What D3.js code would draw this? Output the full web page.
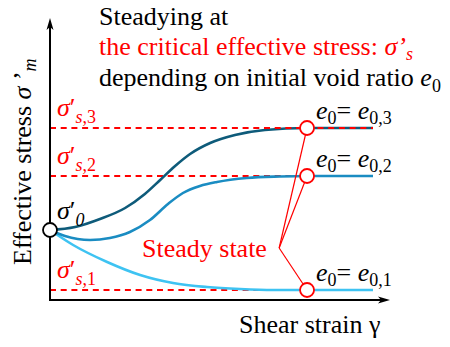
<!DOCTYPE html>
<html>
<head>
<meta charset="utf-8">
<script src="https://cdn.jsdelivr.net/npm/d3@7"></script>
<style>
  html, body { margin: 0; padding: 0; background: #fff; }
  svg { display: block; }
</style>
</head>
<body>
<div id="chart"></div>
<script>
// Shear strain (arbitrary units) sampled along each stress path
const strain3 = [0, 0.74, 1.47, 2.21, 2.79, 3.24, 3.68, 4.12, 4.71, 5.44, 6.32, 7.56, 9.5];
const stress3 = [70, 73, 81, 92, 106, 120, 134, 146, 157, 165, 170, 172, 172];

const strain2 = [0, 0.44, 1.18, 1.76, 2.35, 2.94, 3.47, 3.91, 4.41, 4.91, 5.79, 6.76, 7.56, 9.5];
const stress2 = [70, 64, 60, 62, 68, 80, 96, 107, 114, 118, 122, 123.5, 124, 124];

const strain1 = [0, 0.68, 1.68, 2.65, 3.62, 4.62, 5.59, 6.56, 7.56, 9.5];
const stress1 = [70, 55, 38, 25, 17, 13, 11, 10, 10, 10];

// Initial stress and the critical (steady state) stresses
const initialStress = 70;
const criticalStress = [10, 124, 172];      // σ's,1 σ's,2 σ's,3
const criticalIndex = ["1", "2", "3"];
const steadyStrain = 7.56;
const endStrain = 9.5;
const seriesColors = ["#3ec3f2", "#1a8cc2", "#0e5b7a"];

const W = 450, H = 347;
const FONT = "'Liberation Serif'";
const RED = "#ff0000";

const svg = d3.select("#chart").append("svg")
  .attr("width", W).attr("height", H);

const x = d3.scaleLinear().domain([0, 10]).range([50, 390]);
const y = d3.scaleLinear().domain([0, 282]).range([300, 18]);

const plot = svg.append("g");

// dashed guides at the critical stresses (lower two stop at the steady point)
criticalStress.slice(0, 2).forEach(v => {
  plot.append("line")
    .attr("x1", x(0)).attr("x2", x(steadyStrain))
    .attr("y1", y(v)).attr("y2", y(v))
    .attr("stroke", RED).attr("stroke-width", 2)
    .attr("stroke-dasharray", "6,4.7");
});

// stress paths
const line = d3.line()
  .x(d => x(d[0])).y(d => y(d[1]))
  .curve(d3.curveMonotoneX);

[[strain1, stress1], [strain2, stress2], [strain3, stress3]].forEach((p, i) => {
  plot.append("path")
    .datum(d3.zip(p[0], p[1]))
    .attr("d", line)
    .attr("fill", "none")
    .attr("stroke", seriesColors[i])
    .attr("stroke-width", 2.6);
});

// top guide runs across the whole steady branch
plot.append("line")
  .attr("x1", x(0)).attr("x2", x(endStrain))
  .attr("y1", y(criticalStress[2])).attr("y2", y(criticalStress[2]))
  .attr("stroke", RED).attr("stroke-width", 2)
  .attr("stroke-dasharray", "6,4.7");

// axes with arrow heads
const x0 = x(0), y0 = y(0), xEnd = x(10), yEnd = y(282);
plot.append("line")
  .attr("x1", x0).attr("y1", y0).attr("x2", x0).attr("y2", yEnd + 4)
  .attr("stroke", "#000").attr("stroke-width", 2);
plot.append("line")
  .attr("x1", x0 - 1).attr("y1", y0).attr("x2", xEnd - 4).attr("y2", y0)
  .attr("stroke", "#000").attr("stroke-width", 2);
plot.append("path")
  .attr("d", `M${x0},${yEnd} L${x0 + 3.5},${yEnd + 12} L${x0},${yEnd + 9} L${x0 - 3.5},${yEnd + 12} Z`)
  .attr("fill", "#000");
plot.append("path")
  .attr("d", `M${xEnd},${y0} L${xEnd - 12},${y0 - 3.5} L${xEnd - 9},${y0} L${xEnd - 12},${y0 + 3.5} Z`)
  .attr("fill", "#000");

// leader lines from the "Steady state" label
const hub = [x(6.74), y(52)];
criticalStress.forEach(v => {
  plot.append("line")
    .attr("x1", hub[0]).attr("y1", hub[1])
    .attr("x2", x(steadyStrain)).attr("y2", y(v))
    .attr("stroke", RED).attr("stroke-width", 1.2);
});

// steady state markers
plot.selectAll("circle.steady")
  .data(criticalStress)
  .join("circle")
  .attr("class", "steady")
  .attr("cx", x(steadyStrain)).attr("cy", d => y(d))
  .attr("r", 7)
  .attr("fill", "#fff").attr("stroke", RED).attr("stroke-width", 1.8);

// initial state marker
plot.append("circle")
  .attr("cx", x(0)).attr("cy", y(initialStress))
  .attr("r", 7)
  .attr("fill", "#fff").attr("stroke", "#000").attr("stroke-width", 1.8);

// ---- labels ----
const FS = 26, SUB = 18;

function addText(px, py, color) {
  const t = svg.append("text")
    .attr("x", px).attr("y", py)
    .attr("font-size", FS)
    .attr("font-family", FONT);
  if (color !== "#000") t.attr("fill", color);
  return t;
}

// heading
addText(99, 25, "#000").text("Steadying at");

const h2 = addText(99, 55, RED);
h2.append("tspan").text("the critical effective stress: ");
h2.append("tspan").attr("font-style", "italic").text("σ’");
h2.append("tspan").attr("font-style", "italic").attr("font-size", SUB).attr("dy", 5).text("s");

const h3 = addText(99, 86, "#000");
h3.append("tspan").text("depending on initial void ratio ");
h3.append("tspan").attr("font-style", "italic").text("e");
h3.append("tspan").attr("font-size", SUB).attr("dy", 6).text("0");

// "Steady state" callout
addText(142, 257, RED).text("Steady state");

// axis titles
addText(239, 333, "#000").text("Shear strain γ");

const yl = svg.append("text")
  .attr("transform", "translate(31,265) rotate(-90)")
  .attr("font-size", FS)
  .attr("font-family", FONT);
yl.append("tspan").text("Effective stress ");
yl.append("tspan").attr("font-style", "italic").text("σ");
yl.append("tspan").text(" ’");
yl.append("tspan").attr("font-style", "italic").attr("font-size", SUB).attr("dy", 5).text("m");

function sigmaLabel(px, py, color, sub) {
  const t = addText(px, py, color);
  t.append("tspan").attr("font-style", "italic").text("σ");
  t.append("tspan").text("′");
  t.append("tspan").attr("font-size", SUB).attr("dy", 7)
    .attr("font-style", "italic").text(sub[0]);
  if (sub.length > 1) t.append("tspan").attr("font-size", SUB).text(sub.slice(1));
  return t;
}

// critical stress labels on the left
criticalStress.forEach((v, i) => {
  sigmaLabel(57, y(v) - 12, RED, "s," + criticalIndex[i]);
});
// initial stress label
sigmaLabel(57, y(initialStress) - 11, "#000", "0");

// void ratio labels on the right
criticalStress.forEach((v, i) => {
  const t = addText(316, y(v) - 9, "#000");
  t.append("tspan").attr("font-style", "italic").text("e");
  t.append("tspan").attr("font-size", SUB).attr("dy", 5).text("0");
  t.append("tspan").attr("dy", -5).text("= ");
  t.append("tspan").attr("font-style", "italic").text("e");
  t.append("tspan").attr("font-size", SUB).attr("dy", 5).text("0," + criticalIndex[i]);
});
</script>
</body>
</html>
